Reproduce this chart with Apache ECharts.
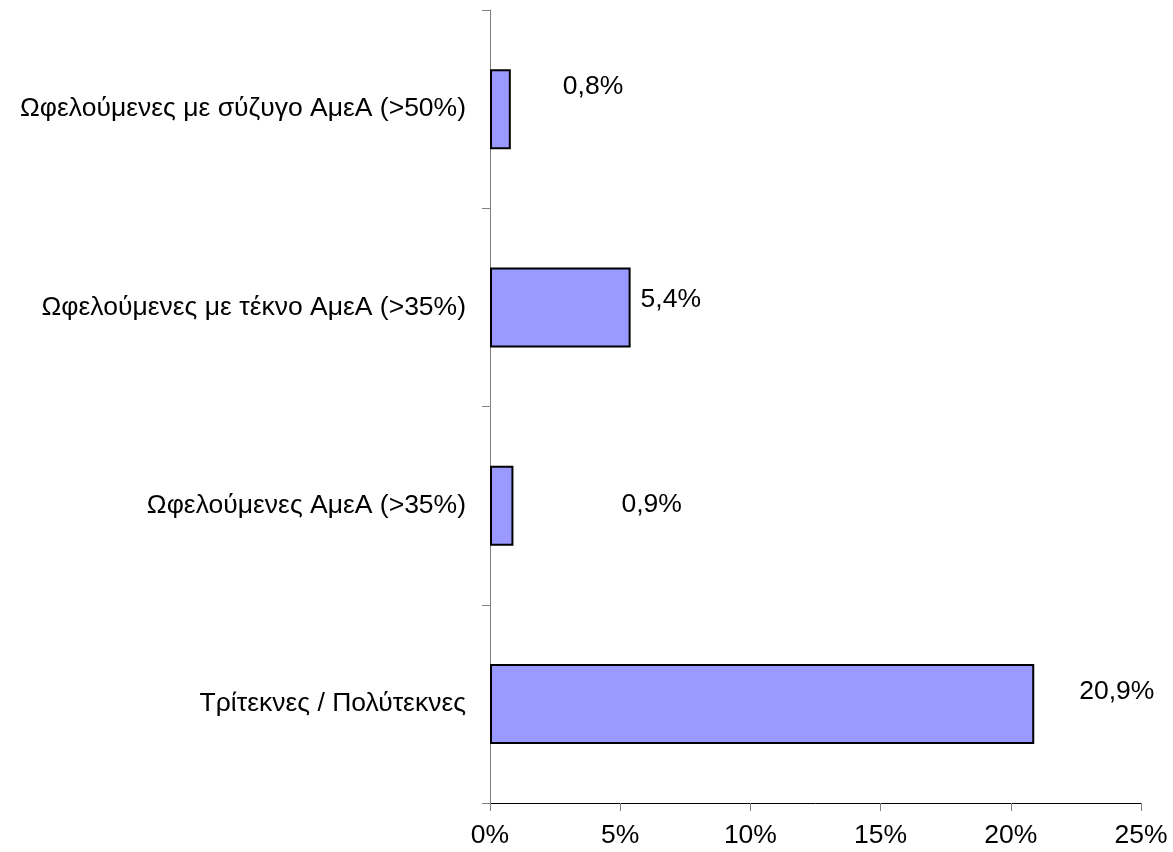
<!DOCTYPE html>
<html><head><meta charset="utf-8">
<script src="https://cdn.jsdelivr.net/npm/echarts@6/dist/echarts.min.js"></script>
<style>html,body{margin:0;padding:0;background:#fff}#c{width:1173px;height:852px}</style>
</head><body><div id="c"></div>
<script>
const categories = ['Ωφελούμενες με σύζυγο ΑμεΑ (>50%)','Ωφελούμενες με τέκνο ΑμεΑ (>35%)','Ωφελούμενες ΑμεΑ (>35%)','Τρίτεκνες / Πολύτεκνες'];
const values = [0.8, 5.4, 0.9, 20.9];
const labelOffsets = [[52,-22],[10,-8],[108,-1],[45,-12]];
const fontFam = '"Liberation Sans", Arial, sans-serif';
const fs = 26.5;
const chart = echarts.init(document.getElementById('c'), null, {renderer:'canvas'});
chart.setOption({
  animation:false,
  grid:{left:490, right:32, top:10, bottom:49, containLabel:false},
  xAxis:{type:'value', min:0, max:25, interval:5,
    axisLine:{show:true, lineStyle:{color:'#000', width:1}},
    axisTick:{show:true, length:8, lineStyle:{color:'#808080'}},
    splitLine:{show:false},
    axisLabel:{formatter:'{value}%', fontSize:fs, color:'#000', fontFamily:fontFam, margin:19}
  },
  yAxis:{type:'category', data:categories, inverse:true,
    axisLine:{show:true, lineStyle:{color:'#808080', width:1}},
    axisTick:{show:true, length:8, lineStyle:{color:'#808080'}},
    axisLabel:{fontSize:fs, color:'#000', fontFamily:fontFam, margin:24}
  },
  series:[{type:'bar', barWidth:80,
    data: values.map((v,i)=>({value:v, label:{offset:labelOffsets[i]}})),
    itemStyle:{color:'#9999FF', borderColor:'#000', borderWidth:2},
    label:{show:true, position:'right', distance:0, fontSize:fs, color:'#000', fontFamily:fontFam,
      formatter:p=>p.value.toFixed(1).replace('.',',')+'%'}
  }]
});
</script></body></html>
